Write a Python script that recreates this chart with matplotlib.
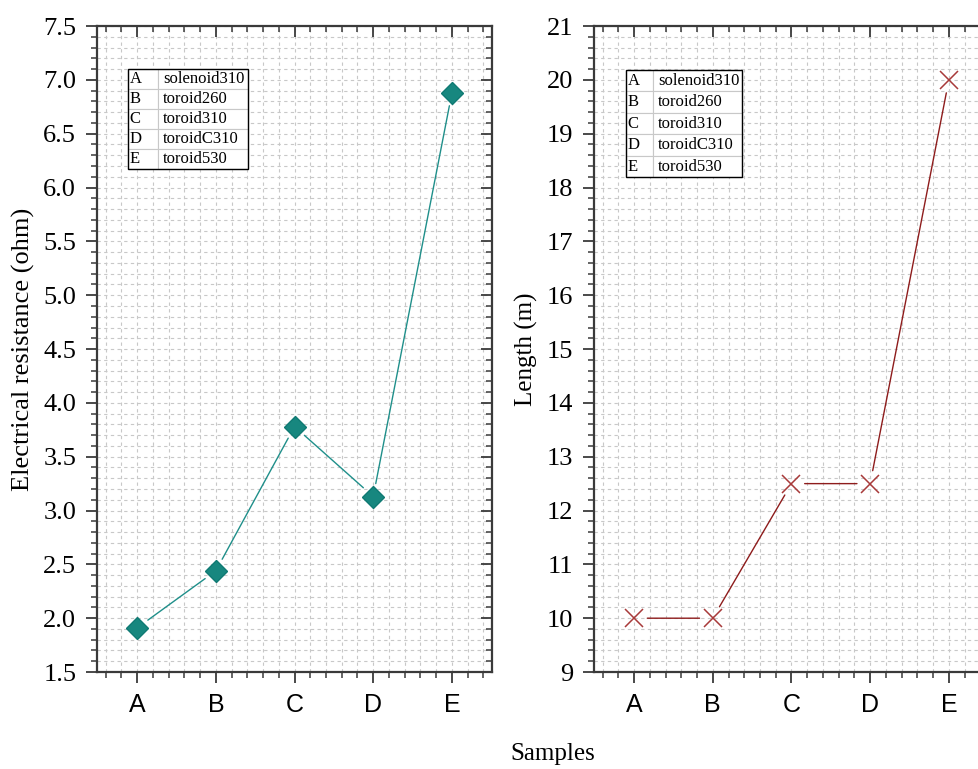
import matplotlib.pyplot as plt
from matplotlib.ticker import MultipleLocator, FormatStrFormatter
from matplotlib.patches import Rectangle

samples = ["A", "B", "C", "D", "E"]
sample_names = ["solenoid310", "toroid260", "toroid310", "toroidC310", "toroid530"]
resistance = [1.91, 2.44, 3.78, 3.13, 6.88]
length_m = [10, 10, 12.5, 12.5, 20]

SERIF = "Liberation Serif"
SANS = "Liberation Sans"
SPINE = "#3a3a3a"


def connect(ax, xs, ys, color, shrink=9.5):
    # Origin style: segments stop short of the markers
    for i in range(len(xs) - 1):
        ax.annotate("", xy=(xs[i + 1], ys[i + 1]), xytext=(xs[i], ys[i]),
                    arrowprops=dict(arrowstyle="-", color=color, lw=1.0,
                                    shrinkA=shrink, shrinkB=shrink), zorder=3)


def ticks(ax, direction):
    ax.tick_params(which="major", direction=direction, length=8, width=1.3, color=SPINE)
    ax.tick_params(which="minor", direction=direction, length=4, width=1.1, color=SPINE)


def style_axes(ax, ylo, yhi, ymaj, ymin, yfmt):
    x = list(range(1, len(samples) + 1))
    ax.set_xlim(0.49, 5.51)
    ax.set_ylim(ylo, yhi)
    ax.set_xticks(x)
    ax.set_xticklabels(samples, fontfamily=SANS, fontsize=18)
    ax.xaxis.set_minor_locator(MultipleLocator(0.2))
    ax.yaxis.set_major_locator(MultipleLocator(ymaj))
    ax.yaxis.set_minor_locator(MultipleLocator(ymin))
    ax.yaxis.set_major_formatter(FormatStrFormatter(yfmt))
    for lab in ax.get_yticklabels():
        lab.set_fontfamily(SERIF)
        lab.set_fontsize(19)
    ticks(ax, "out")
    ax.tick_params(which="major", pad=7)
    ax.grid(which="both", color="#c8c8c8", linestyle=(0, (3, 3)), linewidth=0.8)
    ax.set_axisbelow(True)
    for s in ax.spines.values():
        s.set_color(SPINE)
        s.set_linewidth(1.6)

    # mirrored ticks on top / right point inward
    top = ax.twiny()
    top.set_xlim(ax.get_xlim())
    top.set_xticks(x)
    top.xaxis.set_minor_locator(MultipleLocator(0.2))
    top.tick_params(labeltop=False)
    ticks(top, "in")
    top.patch.set_visible(False)
    for s in top.spines.values():
        s.set_visible(False)

    right = ax.twinx()
    right.set_ylim(ylo, yhi)
    right.yaxis.set_major_locator(MultipleLocator(ymaj))
    right.yaxis.set_minor_locator(MultipleLocator(ymin))
    right.tick_params(labelright=False)
    ticks(right, "in")
    right.patch.set_visible(False)
    for s in right.spines.values():
        s.set_visible(False)


def key_table(ax, bbox, col_a):
    rows = [[s, n] for s, n in zip(samples, sample_names)]
    tb = ax.table(cellText=rows, colWidths=[col_a, 1 - col_a], bbox=bbox,
                  cellLoc="left", zorder=5)
    tb.auto_set_font_size(False)
    for cell in tb.get_celld().values():
        cell.set_edgecolor("#c8c8c8")
        cell.set_linewidth(0.8)
        cell.get_text().set_fontfamily(SERIF)
        cell.get_text().set_fontsize(12)
        cell.PAD = 0.06
    ax.add_patch(Rectangle((bbox[0], bbox[1]), bbox[2], bbox[3], transform=ax.transAxes,
                           fill=False, edgecolor="black", lw=1.0, zorder=6))


fig = plt.figure(figsize=(9.79, 7.69), dpi=100)
ax1 = fig.add_axes([0.0991, 0.1261, 0.4035, 0.840])
ax2 = fig.add_axes([0.6067, 0.1261, 0.4035, 0.840])

xs = list(range(1, len(samples) + 1))

style_axes(ax1, 1.5, 7.5, 0.5, 0.1, "%.1f")
connect(ax1, xs, resistance, "#1f8f8a")
ax1.plot(xs, resistance, linestyle="none", marker="D", markersize=11,
         color="#17877f", markeredgecolor="#0f7a73", zorder=4)
ax1.set_ylabel("Electrical resistance (ohm)", fontfamily=SERIF, fontsize=19, labelpad=6)
key_table(ax1, [0.078, 0.779, 0.304, 0.155], 0.25)

style_axes(ax2, 9, 21, 1, 0.2, "%d")
connect(ax2, xs, length_m, "#8e1c1c")
ax2.plot(xs, length_m, linestyle="none", marker="x", markersize=13,
         markeredgewidth=1.1, color="#a83a3a", zorder=4)
ax2.set_ylabel("Length (m)", fontfamily=SERIF, fontsize=18, labelpad=6)
key_table(ax2, [0.081, 0.766, 0.294, 0.166], 0.23)

fig.text(553 / 979, 0.005, "Samples", ha="center", va="bottom",
         fontfamily=SERIF, fontsize=18)

fig.savefig("out.png", dpi=100)
